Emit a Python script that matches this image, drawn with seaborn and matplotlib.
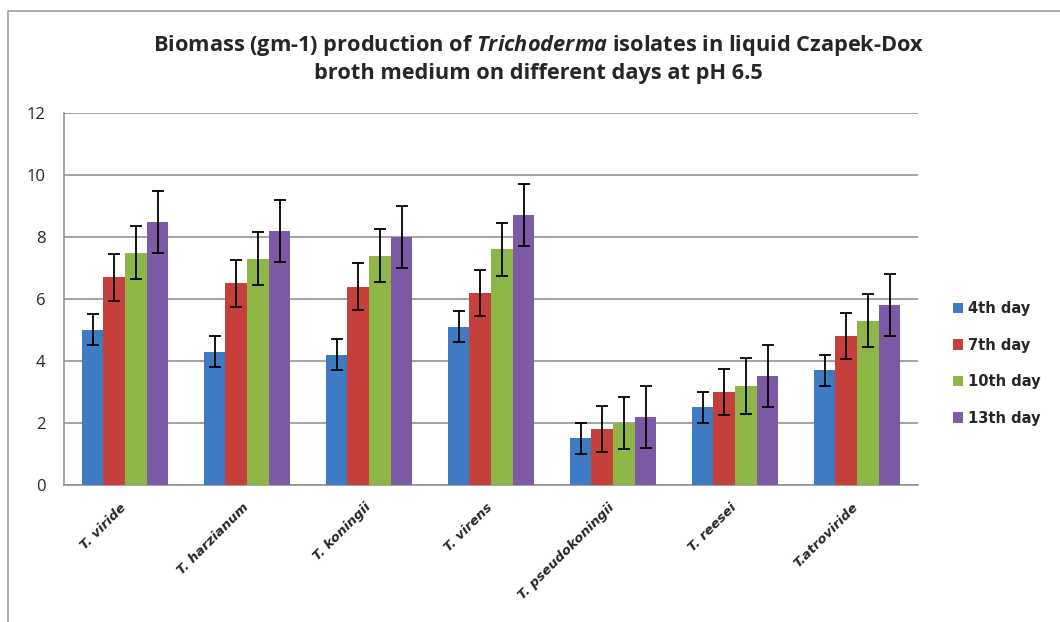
import numpy as np
import pandas as pd
import matplotlib
matplotlib.use('Agg')
import matplotlib.pyplot as plt
import matplotlib.transforms as mtransforms
import seaborn as sns
from matplotlib.patches import Rectangle

isolates = ['T. viride', 'T. harzianum', 'T. koningii', 'T. virens',
            'T. pseudokoningii', 'T. reesei', 'T.atroviride']
days = ['4th day', '7th day', '10th day', '13th day']

day4 = [5.0, 4.3, 4.2, 5.1, 1.5, 2.5, 3.7]
day7 = [6.7, 6.5, 6.4, 6.2, 1.8, 3.0, 4.8]
day10 = [7.5, 7.3, 7.4, 7.6, 2.0, 3.2, 5.3]
day13 = [8.5, 8.2, 8.0, 8.7, 2.2, 3.5, 5.8]

err4 = [0.5, 0.5, 0.5, 0.5, 0.5, 0.5, 0.5]
err7 = [0.75, 0.75, 0.75, 0.75, 0.75, 0.75, 0.75]
err10 = [0.85, 0.85, 0.85, 0.85, 0.85, 0.9, 0.85]
err13 = [1.0, 1.0, 1.0, 1.0, 1.0, 1.0, 1.0]

colors = ['#3D7CC3', '#C6403B', '#8EB646', '#7D5AA5']

df = pd.DataFrame({
    'isolate': isolates * 4,
    'day': np.repeat(days, len(isolates)),
    'biomass': day4 + day7 + day10 + day13,
})
errs = [err4, err7, err10, err13]

sns.set_style('white')
plt.rcParams['font.family'] = ['Open Sans', 'DejaVu Sans']
plt.rcParams['mathtext.fontset'] = 'custom'
plt.rcParams['mathtext.rm'] = 'Open Sans'
plt.rcParams['mathtext.bf'] = 'Open Sans:bold'
plt.rcParams['mathtext.bfit'] = 'Open Sans:italic:bold'

fig = plt.figure(figsize=(10.6, 6.22), dpi=100)
ax = fig.add_axes([0.0604, 0.2203, 0.8057, 0.598])

sns.barplot(data=df, x='isolate', y='biomass', hue='day', hue_order=days,
            order=isolates, palette=colors, width=0.71, errorbar=None,
            saturation=1, ax=ax, zorder=3, linewidth=0)

# error bars on each bar, taken from the bar positions seaborn produced
for cont, e in zip(ax.containers, errs):
    xs = [p.get_x() + p.get_width() / 2 for p in cont.patches]
    hs = [p.get_height() for p in cont.patches]
    ax.errorbar(xs, hs, yerr=e, fmt='none', ecolor='black', elinewidth=1.3,
                capsize=4.5, capthick=1.3, zorder=4)

ax.set_ylim(0, 12)
ax.set_yticks(range(0, 13, 2))
ax.set_xlim(-0.5, len(isolates) - 0.5)
ax.yaxis.grid(True, color='#8c8c8c', linewidth=1.1, zorder=0)
ax.set_axisbelow(True)
for s in ['top', 'right']:
    ax.spines[s].set_visible(False)
for s in ['left', 'bottom']:
    ax.spines[s].set_color('#8c8c8c')
    ax.spines[s].set_linewidth(1.1)
ax.set_xlabel('')
ax.set_ylabel('')
ax.tick_params(axis='y', labelsize=12, pad=13.5, length=0)
ax.tick_params(axis='x', length=0, pad=6)
ax.set_xticks(range(len(isolates)))
ax.set_xticklabels(isolates, rotation=45, ha='right', rotation_mode='anchor',
                   fontsize=9.5, fontstyle='italic', fontweight='bold',
                   family='DejaVu Sans')
shift = mtransforms.ScaledTranslation(-0.05, -0.075, fig.dpi_scale_trans)
for lab in ax.get_xticklabels():
    lab.set_transform(lab.get_transform() + shift)

leg = ax.legend(loc='center left', bbox_to_anchor=(1.025, 0.327), frameon=False,
                prop={'weight': 'bold', 'size': 10.5, 'family': 'DejaVu Sans'},
                handlelength=0.7, handleheight=0.7, handletextpad=0.35,
                labelspacing=1.47)

fig.text(0.508, 0.927, 'Biomass (gm-1) production of $\\mathbfit{Trichoderma}$ isolates in liquid Czapek-Dox',
         ha='center', va='center', fontsize=15.7, fontweight='bold')
fig.text(0.508, 0.882, 'broth medium on different days at pH 6.5',
         ha='center', va='center', fontsize=15.7, fontweight='bold')

fig.patches.append(Rectangle((0.0075, -0.1), 1.1, 1.082, transform=fig.transFigure,
                             fill=False, edgecolor='#a0a0a0', linewidth=1.2))

fig.savefig('out.png', dpi=100)
